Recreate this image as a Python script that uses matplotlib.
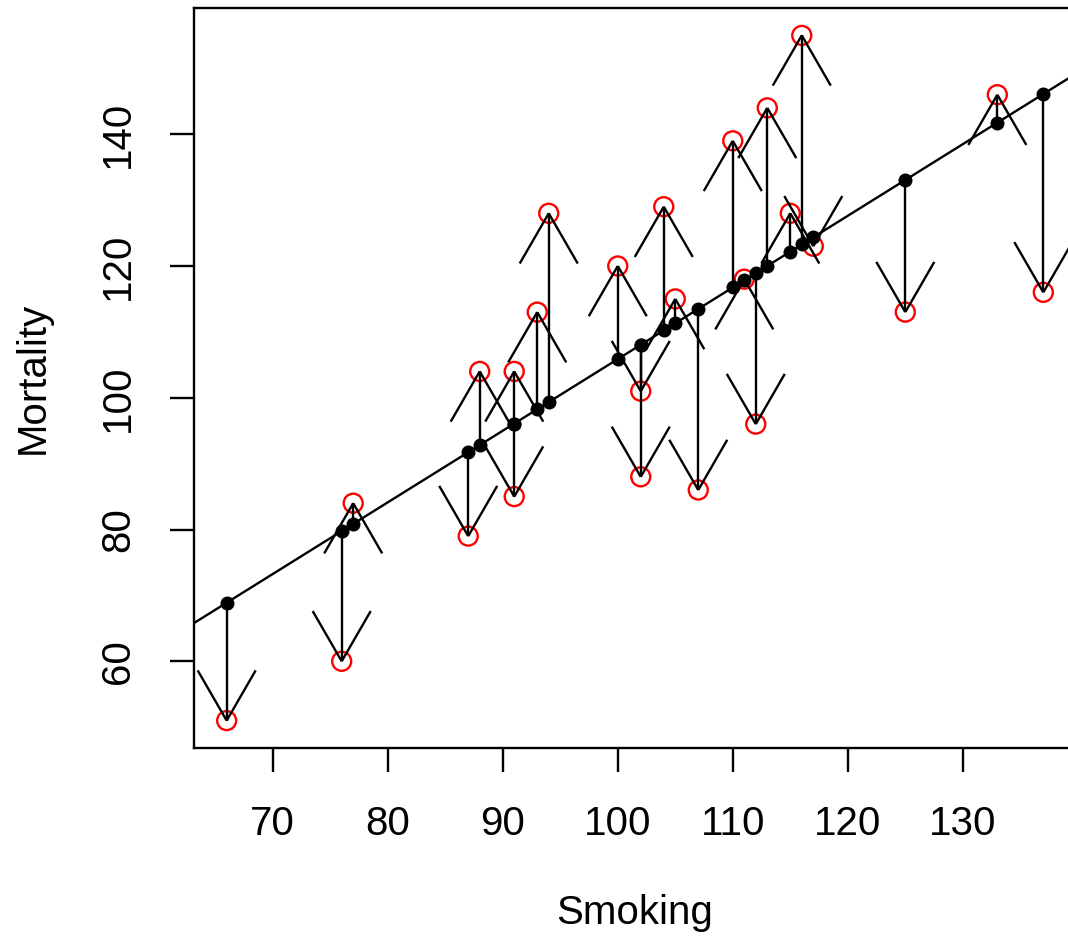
import numpy as np
import matplotlib
matplotlib.use("Agg")
import matplotlib.pyplot as plt

smoking = [77, 137, 117, 94, 116, 102, 111, 93, 88, 102, 91, 104, 107,
           112, 113, 110, 125, 133, 115, 105, 87, 91, 100, 76, 66]
mortality = [84, 116, 123, 128, 155, 101, 118, 113, 104, 88, 104, 129, 86,
             96, 144, 139, 113, 146, 128, 115, 79, 85, 120, 60, 51]
xticks = [70, 80, 90, 100, 110, 120, 130]
yticks = [60, 80, 100, 120, 140]

x = np.array(smoking, float)
y = np.array(mortality, float)
b, a = np.polyfit(x, y, 1)
fitted = a + b * x

plt.rcParams['font.family'] = ['Liberation Sans', 'DejaVu Sans']
W, H, DPI = 1068, 938, 100
fig = plt.figure(figsize=(W / DPI, H / DPI), dpi=DPI)
ax = fig.add_axes([194 / W, 1 - 748 / H, (1076 - 194) / W, (748 - 8) / H])

xr = x.max() - x.min()
yr = y.max() - y.min()
xlim = (x.min() - 0.04 * xr, x.max() + 0.04 * xr)
ylim = (y.min() - 0.04 * yr, y.max() + 0.04 * yr)
ax.set_xlim(*xlim)
ax.set_ylim(*ylim)

lw = 1.7
ax.scatter(x, y, s=(19 * 72 / DPI) ** 2, facecolors='none', edgecolors='red',
           linewidths=lw, zorder=2)
xx = np.array(xlim)
ax.plot(xx, a + b * xx, color='black', lw=lw, zorder=3)
ax.scatter(x, fitted, s=(14 * 72 / DPI) ** 2, color='black', zorder=4,
           linewidths=0)

# arrows from fitted to observed
fig.canvas.draw()
T = ax.transData
Ti = T.inverted()
L = 58.0
ang = np.deg2rad(30)
for xi, yf, yo in zip(x, fitted, y):
    ax.plot([xi, xi], [yf, yo], color='black', lw=lw, zorder=5, solid_capstyle='butt')
    p0 = T.transform((xi, yf))
    p1 = T.transform((xi, yo))
    d = p1 - p0
    n = np.hypot(*d)
    if n < 1e-6:
        continue
    u = -d / n
    for s in (1, -1):
        c, sn = np.cos(s * ang), np.sin(s * ang)
        r = np.array([c * u[0] - sn * u[1], sn * u[0] + c * u[1]])
        e = p1 + L * r
        pe = Ti.transform(e)
        ax.plot([xi, pe[0]], [yo, pe[1]], color='black', lw=lw, zorder=5,
                solid_capstyle='butt', clip_on=True)

ax.set_xticks(xticks)
ax.set_yticks(yticks)
ax.set_yticklabels([str(t) for t in yticks], rotation=90, va='center')
ax.tick_params(axis='both', direction='out', length=17, width=lw,
               labelsize=29, pad=24)
for sp in ax.spines.values():
    sp.set_linewidth(lw)

fig.text(33 / W, 1 - 378 / H, 'Mortality', rotation=90, ha='center',
         va='center', fontsize=29)
fig.text(635 / W, 1 - 913 / H, 'Smoking', ha='center', va='center', fontsize=29)

fig.savefig('out.png', dpi=DPI)
